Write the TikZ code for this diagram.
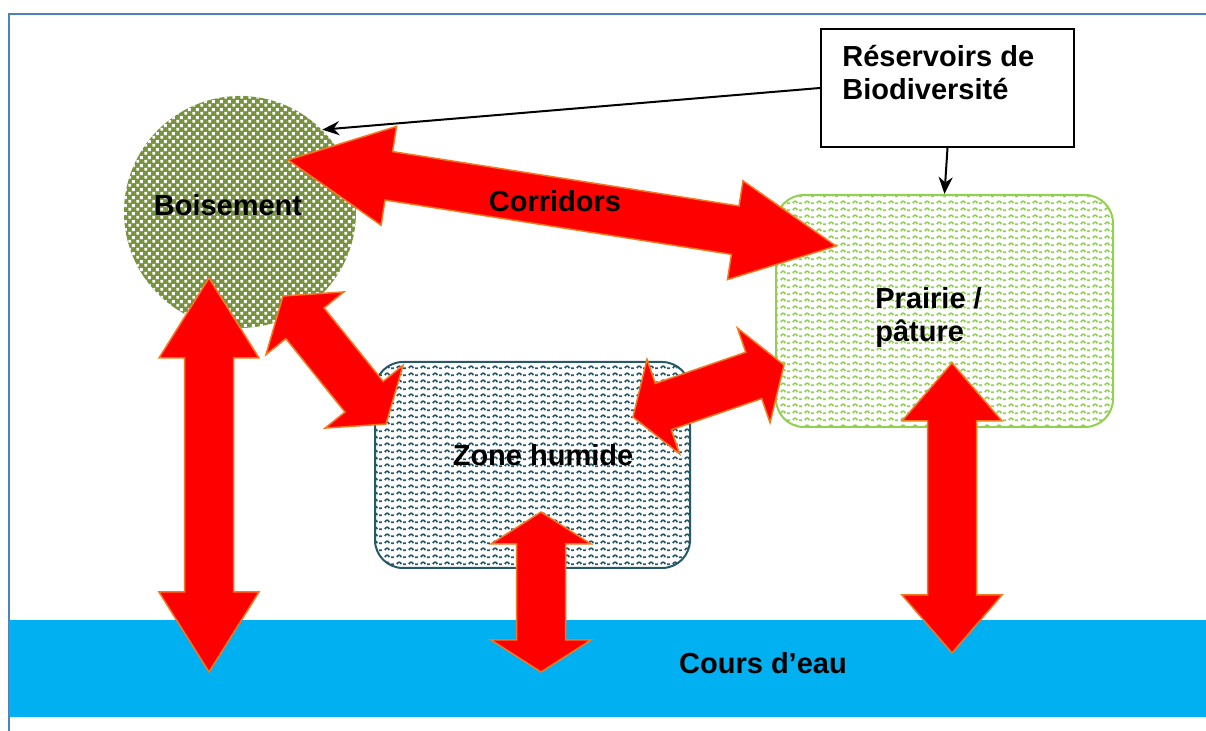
\documentclass[tikz,border=0pt]{standalone}
\usepackage{fontspec}
\setmainfont{Liberation Sans}
\usetikzlibrary{calc}
\usetikzlibrary{patterns}
\usetikzlibrary{arrows.meta}
\usetikzlibrary{shapes}

\definecolor{cadre}{RGB}{79,129,189}
\definecolor{eaucolor}{RGB}{0,176,240}
\definecolor{boiscolor}{RGB}{119,147,60}
\definecolor{zonecolor}{RGB}{38,89,104}
\definecolor{prairiecolor}{RGB}{146,208,80}
\definecolor{bordfleche}{RGB}{245,120,30}

\pgfdeclarepatternformonly{vagues}{\pgfpointorigin}{\pgfqpoint{6pt}{3.6pt}}{\pgfqpoint{6pt}{3.6pt}}{%
\pgfsetlinewidth{0.9pt}
\pgfpathmoveto{\pgfqpoint{0.5pt}{1pt}}
\pgfpathcurveto{\pgfqpoint{1.1pt}{2.5pt}}{\pgfqpoint{2.3pt}{2.5pt}}{\pgfqpoint{2.9pt}{1pt}}
\pgfpathmoveto{\pgfqpoint{3.8pt}{1pt}}
\pgfpathlineto{\pgfqpoint{5.3pt}{1pt}}
\pgfusepath{stroke}}

\pgfdeclarepatternformonly{damier}{\pgfpointorigin}{\pgfqpoint{4pt}{4pt}}{\pgfqpoint{4pt}{4pt}}{%
\pgfpathrectangle{\pgfqpoint{0.2pt}{0.2pt}}{\pgfqpoint{1.6pt}{1.6pt}}
\pgfpathrectangle{\pgfqpoint{2.2pt}{2.2pt}}{\pgfqpoint{1.6pt}{1.6pt}}
\pgfusepath{fill}}

% double fleche rouge entre deux pointes, #3 = longueur de la tete
\newcommand{\flux}[3]{%
\coordinate (ha) at ($(#1)!#3!(#2)$);
\coordinate (hb) at ($(#2)!#3!(#1)$);
\draw[fleche] (#1)--($(ha)!\tete!90:(#2)$)--($(ha)!\tige!90:(#2)$)--($(hb)!\tige!-90:(#1)$)--($(hb)!\tete!-90:(#1)$)--(#2)--($(hb)!\tete!90:(#1)$)--($(hb)!\tige!90:(#1)$)--($(ha)!\tige!-90:(#2)$)--($(ha)!\tete!-90:(#2)$)--cycle;}

\begin{document}
\begin{tikzpicture}[%
x=0.5pt, y=-0.5pt,
>={Stealth[length=8.5pt,width=7pt]},
texte/.style={font=\fontsize{14.5}{16.5}\selectfont\bfseries, inner sep=0pt},
milieu/.style={rectangle, rounded corners=14pt, line width=1pt, inner sep=0pt},
fleche/.style={fill=red, draw=bordfleche, line width=0.75pt},
lien/.style={->, line width=1pt},
]

\pgfmathsetlengthmacro{\tete}{25pt}
\pgfmathsetlengthmacro{\tige}{12.25pt}

\useasboundingbox (0,0) rectangle (1206,731);
\draw[cadre, line width=1pt] (1206,14)--(9,14)--(9,731);

\node(eau)[rectangle, fill=eaucolor, inner sep=0pt, minimum width=598.5pt, minimum height=48.5pt] at (607.5,668.5){};

\node(bois)[circle, minimum size=116pt, inner sep=0pt, preaction={fill=boiscolor}, pattern=damier, pattern color=white] at (240,212){};
\node(zone)[milieu, minimum width=157.5pt, minimum height=103pt, draw=zonecolor, pattern=vagues, pattern color=zonecolor] at (532.5,465){};
\node(prairie)[milieu, minimum width=168.5pt, minimum height=116pt, draw=prairiecolor, pattern=vagues, pattern color=prairiecolor] at (944.5,311){};
\node(reserv)[rectangle, draw, line width=1pt, fill=white, minimum width=126.5pt, minimum height=59pt] at (947.5,88){};

\draw[lien] (reserv.west)--(bois.45);
\draw[lien] (reserv.south)--(prairie.north);

\coordinate (corA) at (288,160);
\coordinate (corB) at (836,246);
\coordinate (beA) at (209,278);
\coordinate (beB) at (209,672);
\coordinate (bzA) at (283,296);
\coordinate (bzB) at (386,424);
\coordinate (zeA) at (541,512);
\coordinate (zeB) at (541,672);
\coordinate (zpA) at (633,417);
\coordinate (zpB) at (784,365);
\coordinate (peA) at (952,363);
\coordinate (peB) at (952,653);

\flux{corA}{corB}{51pt}
\flux{beA}{beB}{40pt}
\flux{bzA}{bzB}{17.5pt}
\flux{zeA}{zeB}{16pt}
\flux{zpA}{zpB}{16pt}
\flux{peA}{peB}{29pt}

\node(boisT)[texte] at ([xshift=-6pt,yshift=3.5pt]bois){Boisement};
\node(corT)[texte] at (555,201){Corridors};
\node(zoneT)[texte] at ([xshift=5.25pt,yshift=5pt]zone){Zone humide};
\node(prairieT)[texte, anchor=north west, align=left] at ([xshift=50pt,yshift=-46.5pt]prairie.north west){Prairie /\\pâture};
\node(reservT)[texte, anchor=north west, align=left] at ([xshift=11pt,yshift=-8.5pt]reserv.north west){Réservoirs de\\Biodiversité};
\node(eauT)[texte] at (763,663){Cours d’eau};

\end{tikzpicture}
\end{document}
